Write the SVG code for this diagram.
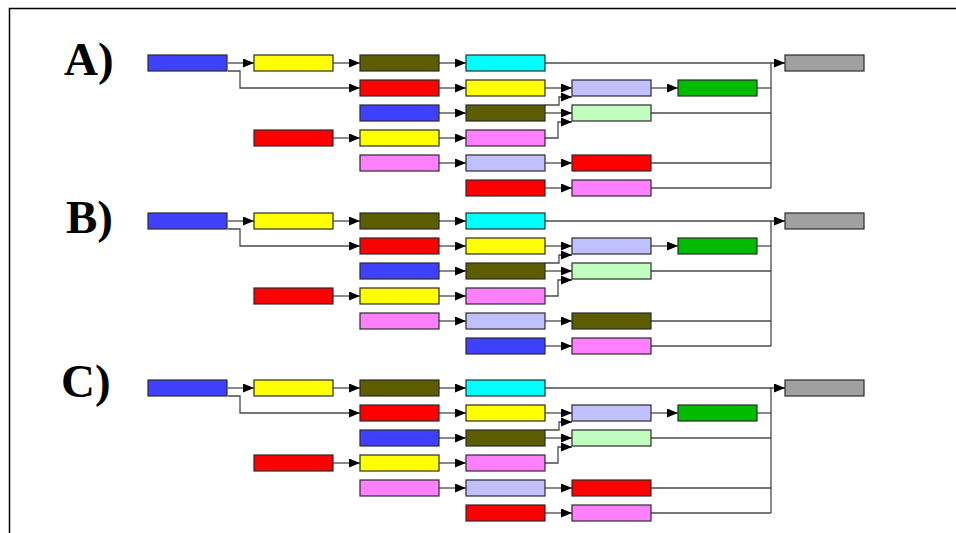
<svg xmlns="http://www.w3.org/2000/svg" width="956" height="533" viewBox="0 0 956 533">
<defs>
<marker id="ah" markerUnits="userSpaceOnUse" markerWidth="11" markerHeight="9" refX="11" refY="4.5" orient="auto"><path d="M0,0 L11,4.5 L0,9 z" fill="#000"/></marker>
</defs>
<style>
.n{stroke:#2a2a2a;stroke-width:1.2}
.bl{fill:#4040ff}.ye{fill:#ffff00}.ol{fill:#5c5c00}.cy{fill:#00ffff}.gr{fill:#a0a0a0}.rd{fill:#ff0000}.lv{fill:#c0c0ff}.gn{fill:#00bb00}.lg{fill:#c0ffc0}.pk{fill:#ff80ff}
.c path{fill:none;stroke:#4a4a4a;stroke-width:1.3}
.a{marker-end:url(#ah)}
.lbl{font-family:"Liberation Serif",serif;font-weight:bold;font-size:47px;fill:#000}
</style>
<rect width="956" height="533" fill="#fff"/>
<path d="M9.5,533 V8.5 H956" fill="none" stroke="#000" stroke-width="1.5"/>
<text class="lbl" x="64" y="75">A)</text>
<text class="lbl" x="66" y="233">B)</text>
<text class="lbl" x="61" y="397">C)</text>

<g id="panelA">
<g class="c">
<path class="a" d="M228,63 H254"/><path class="a" d="M228,71 H240 V88 H360"/><path class="a" d="M333,63 H360"/><path class="a" d="M439,63 H466"/>
<path d="M545,63 H771"/><path class="a" d="M771,188 V63 H785"/>
<path class="a" d="M439,88 H466"/><path class="a" d="M545,88 H572"/><path class="a" d="M651,88 H678"/><path d="M757,88 H771"/>
<path class="a" d="M439,113 H466"/><path class="a" d="M545,113 H572"/><path class="a" d="M545,105 H559 V97 H572"/><path d="M651,113 H771"/>
<path class="a" d="M333,138 H360"/><path class="a" d="M439,138 H466"/><path class="a" d="M545,138 H558 V122 H572"/>
<path class="a" d="M439,163 H466"/><path class="a" d="M545,163 H572"/><path d="M651,163 H771"/>
<path class="a" d="M545,188 H572"/><path d="M651,188 H771"/>
</g>
<g id="A1"><rect class="n bl" x="148" y="55" width="79" height="16"/></g>
<g id="A2"><rect class="n ye" x="254" y="55" width="79" height="16"/></g>
<g id="A3"><rect class="n ol" x="360" y="55" width="79" height="16"/></g>
<g id="A4"><rect class="n cy" x="466" y="55" width="79" height="16"/></g>
<g id="A5"><rect class="n gr" x="785" y="55" width="79" height="16"/></g>
<g id="A6"><rect class="n rd" x="360" y="80" width="79" height="16"/></g>
<g id="A7"><rect class="n ye" x="466" y="80" width="79" height="16"/></g>
<g id="A8"><rect class="n lv" x="572" y="80" width="79" height="16"/></g>
<g id="A9"><rect class="n gn" x="678" y="80" width="79" height="16"/></g>
<g id="A10"><rect class="n bl" x="360" y="105" width="79" height="16"/></g>
<g id="A11"><rect class="n ol" x="466" y="105" width="79" height="16"/></g>
<g id="A12"><rect class="n lg" x="572" y="105" width="79" height="16"/></g>
<g id="A13"><rect class="n rd" x="254" y="130" width="79" height="16"/></g>
<g id="A14"><rect class="n ye" x="360" y="130" width="79" height="16"/></g>
<g id="A15"><rect class="n pk" x="466" y="130" width="79" height="16"/></g>
<g id="A16"><rect class="n pk" x="360" y="155" width="79" height="16"/></g>
<g id="A17"><rect class="n lv" x="466" y="155" width="79" height="16"/></g>
<g id="A18"><rect class="n rd" x="572" y="155" width="79" height="16"/></g>
<g id="A19"><rect class="n rd" x="466" y="180" width="79" height="16"/></g>
<g id="A20"><rect class="n pk" x="572" y="180" width="79" height="16"/></g>
</g>

<g id="panelB" transform="translate(0,158)">
<g class="c">
<path class="a" d="M228,63 H254"/><path class="a" d="M228,71 H240 V88 H360"/><path class="a" d="M333,63 H360"/><path class="a" d="M439,63 H466"/>
<path d="M545,63 H771"/><path class="a" d="M771,188 V63 H785"/>
<path class="a" d="M439,88 H466"/><path class="a" d="M545,88 H572"/><path class="a" d="M651,88 H678"/><path d="M757,88 H771"/>
<path class="a" d="M439,113 H466"/><path class="a" d="M545,113 H572"/><path class="a" d="M545,105 H559 V97 H572"/><path d="M651,113 H771"/>
<path class="a" d="M333,138 H360"/><path class="a" d="M439,138 H466"/><path class="a" d="M545,138 H558 V122 H572"/>
<path class="a" d="M439,163 H466"/><path class="a" d="M545,163 H572"/><path d="M651,163 H771"/>
<path class="a" d="M545,188 H572"/><path d="M651,188 H771"/>
</g>
<g id="B1"><rect class="n bl" x="148" y="55" width="79" height="16"/></g>
<g id="B2"><rect class="n ye" x="254" y="55" width="79" height="16"/></g>
<g id="B3"><rect class="n ol" x="360" y="55" width="79" height="16"/></g>
<g id="B4"><rect class="n cy" x="466" y="55" width="79" height="16"/></g>
<g id="B5"><rect class="n gr" x="785" y="55" width="79" height="16"/></g>
<g id="B6"><rect class="n rd" x="360" y="80" width="79" height="16"/></g>
<g id="B7"><rect class="n ye" x="466" y="80" width="79" height="16"/></g>
<g id="B8"><rect class="n lv" x="572" y="80" width="79" height="16"/></g>
<g id="B9"><rect class="n gn" x="678" y="80" width="79" height="16"/></g>
<g id="B10"><rect class="n bl" x="360" y="105" width="79" height="16"/></g>
<g id="B11"><rect class="n ol" x="466" y="105" width="79" height="16"/></g>
<g id="B12"><rect class="n lg" x="572" y="105" width="79" height="16"/></g>
<g id="B13"><rect class="n rd" x="254" y="130" width="79" height="16"/></g>
<g id="B14"><rect class="n ye" x="360" y="130" width="79" height="16"/></g>
<g id="B15"><rect class="n pk" x="466" y="130" width="79" height="16"/></g>
<g id="B16"><rect class="n pk" x="360" y="155" width="79" height="16"/></g>
<g id="B17"><rect class="n lv" x="466" y="155" width="79" height="16"/></g>
<g id="B18"><rect class="n ol" x="572" y="155" width="79" height="16"/></g>
<g id="B19"><rect class="n bl" x="466" y="180" width="79" height="16"/></g>
<g id="B20"><rect class="n pk" x="572" y="180" width="79" height="16"/></g>
</g>

<g id="panelC" transform="translate(0,325)">
<g class="c">
<path class="a" d="M228,63 H254"/><path class="a" d="M228,71 H240 V88 H360"/><path class="a" d="M333,63 H360"/><path class="a" d="M439,63 H466"/>
<path d="M545,63 H771"/><path class="a" d="M771,188 V63 H785"/>
<path class="a" d="M439,88 H466"/><path class="a" d="M545,88 H572"/><path class="a" d="M651,88 H678"/><path d="M757,88 H771"/>
<path class="a" d="M439,113 H466"/><path class="a" d="M545,113 H572"/><path class="a" d="M545,105 H559 V97 H572"/><path d="M651,113 H771"/>
<path class="a" d="M333,138 H360"/><path class="a" d="M439,138 H466"/><path class="a" d="M545,138 H558 V122 H572"/>
<path class="a" d="M439,163 H466"/><path class="a" d="M545,163 H572"/><path d="M651,163 H771"/>
<path class="a" d="M545,188 H572"/><path d="M651,188 H771"/>
</g>
<g id="C1"><rect class="n bl" x="148" y="55" width="79" height="16"/></g>
<g id="C2"><rect class="n ye" x="254" y="55" width="79" height="16"/></g>
<g id="C3"><rect class="n ol" x="360" y="55" width="79" height="16"/></g>
<g id="C4"><rect class="n cy" x="466" y="55" width="79" height="16"/></g>
<g id="C5"><rect class="n gr" x="785" y="55" width="79" height="16"/></g>
<g id="C6"><rect class="n rd" x="360" y="80" width="79" height="16"/></g>
<g id="C7"><rect class="n ye" x="466" y="80" width="79" height="16"/></g>
<g id="C8"><rect class="n lv" x="572" y="80" width="79" height="16"/></g>
<g id="C9"><rect class="n gn" x="678" y="80" width="79" height="16"/></g>
<g id="C10"><rect class="n bl" x="360" y="105" width="79" height="16"/></g>
<g id="C11"><rect class="n ol" x="466" y="105" width="79" height="16"/></g>
<g id="C12"><rect class="n lg" x="572" y="105" width="79" height="16"/></g>
<g id="C13"><rect class="n rd" x="254" y="130" width="79" height="16"/></g>
<g id="C14"><rect class="n ye" x="360" y="130" width="79" height="16"/></g>
<g id="C15"><rect class="n pk" x="466" y="130" width="79" height="16"/></g>
<g id="C16"><rect class="n pk" x="360" y="155" width="79" height="16"/></g>
<g id="C17"><rect class="n lv" x="466" y="155" width="79" height="16"/></g>
<g id="C18"><rect class="n rd" x="572" y="155" width="79" height="16"/></g>
<g id="C19"><rect class="n rd" x="466" y="180" width="79" height="16"/></g>
<g id="C20"><rect class="n pk" x="572" y="180" width="79" height="16"/></g>
</g>
</svg>
